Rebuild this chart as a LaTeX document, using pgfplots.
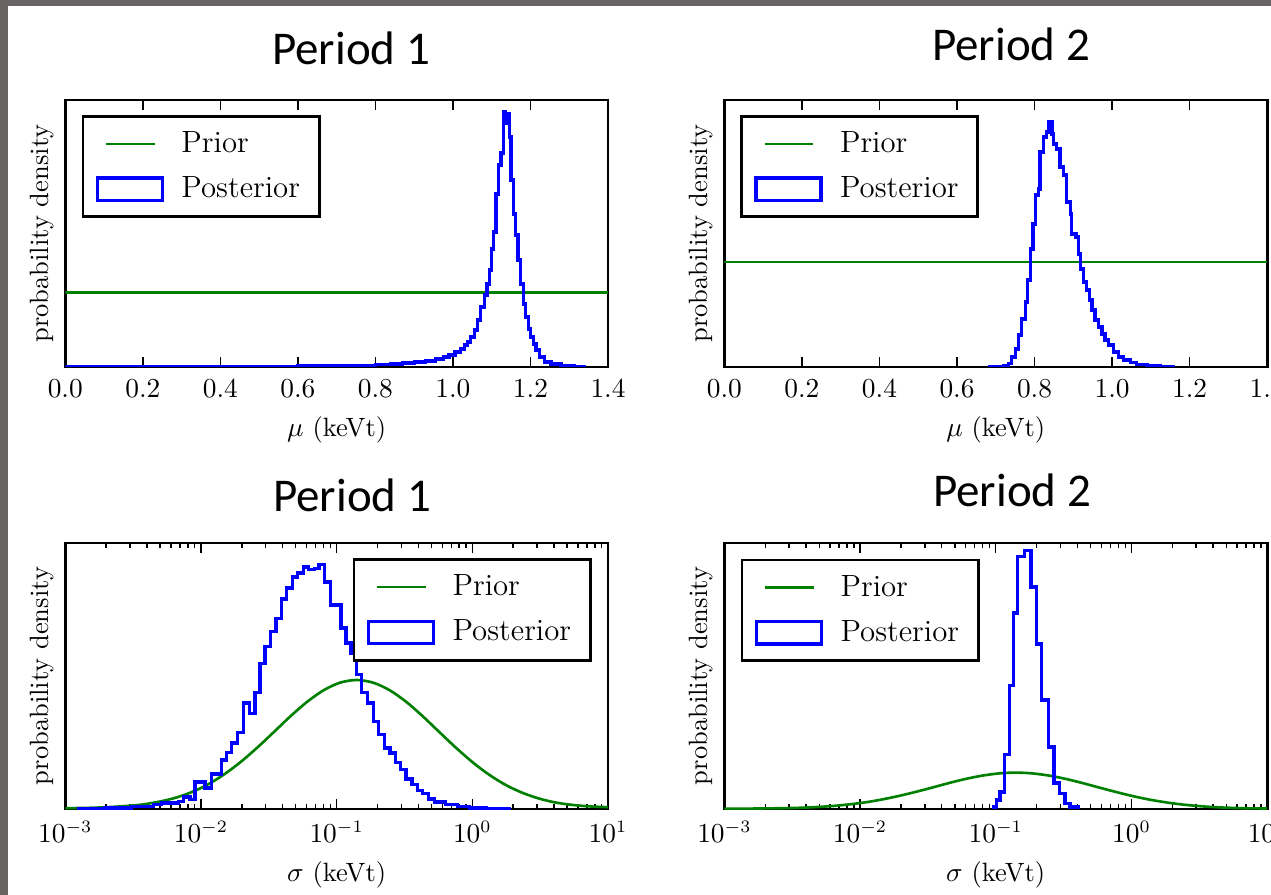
\documentclass[border=0pt]{standalone}
\usepackage{fontspec}
\usepackage{pgfplots}
\usepackage{pgfplotstable}
\pgfplotsset{compat=1.18}
\newfontfamily\calibri{Carlito}
\definecolor{mplgreen}{RGB}{0,128,0}
\definecolor{mplblue}{RGB}{0,0,255}
\definecolor{framegray}{RGB}{104,100,99}

% posterior histograms: left bin edge, bar height (arbitrary density units)
\pgfplotstableread{
mu h
0.000 0.0
0.000 0.3
0.100 0.3
0.200 0.4
0.300 0.5
0.400 0.6
0.500 0.8
0.600 1.0
0.700 1.3
0.760 1.6
0.800 2.3
0.840 3.0
0.870 4.0
0.900 5.0
0.930 6.0
0.955 8.0
0.975 10.0
0.990 12.0
1.005 15.0
1.020 18.0
1.029 22.0
1.038 25.0
1.046 30.0
1.055 37.0
1.063 47.0
1.072 60.0
1.081 72.0
1.088 83.0
1.094 97.0
1.100 118.0
1.105 135.0
1.111 173.0
1.118 202.0
1.124 214.0
1.131 255.0
1.136 244.0
1.140 253.0
1.146 230.0
1.150 187.0
1.157 153.0
1.162 132.0
1.168 107.0
1.175 83.0
1.182 63.0
1.188 50.0
1.195 38.0
1.201 30.0
1.208 23.0
1.214 17.0
1.223 10.0
1.236 5.0
1.253 3.0
1.279 1.3
1.313 0.3
1.340 0.0
}\postmuA

\pgfplotstableread{
mu h
0.685 0.0
0.685 0.3
0.720 1.7
0.733 3.3
0.741 10.0
0.750 18.0
0.759 32.0
0.767 48.0
0.776 65.0
0.782 87.0
0.789 118.0
0.796 143.0
0.802 172.0
0.810 178.0
0.814 215.0
0.823 230.0
0.830 235.0
0.836 245.0
0.845 233.0
0.849 223.0
0.857 218.0
0.866 200.0
0.875 192.0
0.883 165.0
0.892 153.0
0.896 133.0
0.907 130.0
0.913 113.0
0.919 98.0
0.926 85.0
0.935 77.0
0.942 67.0
0.948 57.0
0.956 47.0
0.965 40.0
0.974 33.0
0.982 27.0
0.991 22.0
1.004 15.0
1.017 10.0
1.029 7.0
1.047 4.3
1.064 2.3
1.090 1.0
1.124 0.3
1.158 0.0
}\postmuB

% sigma histograms: log10 of left bin edge, bar height
\pgfplotstableread{
ls h
-2.900 0.0
-2.900 0.3
-2.707 1.0
-2.511 2.7
-2.351 4.3
-2.290 6.0
-2.167 7.7
-2.130 12.0
-2.081 9.3
-2.044 27.0
-1.971 21.0
-1.921 35.0
-1.848 49.0
-1.811 56.7
-1.774 66.0
-1.730 76.7
-1.688 106.0
-1.644 95.3
-1.602 116.7
-1.565 145.3
-1.528 162.7
-1.487 177.7
-1.447 190.3
-1.406 210.0
-1.369 221.0
-1.327 232.0
-1.288 236.0
-1.246 242.0
-1.209 239.3
-1.165 240.3
-1.130 244.3
-1.091 227.0
-1.044 204.0
-0.968 181.0
-0.931 166.0
-0.895 156.0
-0.853 134.3
-0.814 116.7
-0.772 106.0
-0.730 87.7
-0.691 74.3
-0.649 61.0
-0.607 56.0
-0.568 46.7
-0.531 39.3
-0.489 30.0
-0.445 24.3
-0.403 18.7
-0.366 15.3
-0.322 10.0
-0.280 7.0
-0.195 4.3
-0.108 2.7
-0.023 1.0
0.100 0.3
0.272 0.0
}\postsigA

\pgfplotstableread{
ls h
-1.018 0.0
-1.018 2.0
-0.993 9.0
-0.969 17.0
-0.937 54.7
-0.900 123.7
-0.871 196.0
-0.839 252.7
-0.790 258.7
-0.741 222.0
-0.699 165.0
-0.662 109.0
-0.613 62.0
-0.571 26.0
-0.532 15.3
-0.490 5.3
-0.453 2.0
-0.392 0.0
}\postsigB

% sigma priors: log10 sigma, density
\pgfplotstableread{
ls h
-3.000 0.8
-2.941 0.9
-2.818 1.2
-2.695 1.8
-2.573 2.8
-2.450 4.2
-2.327 6.8
-2.204 10.6
-2.081 16.2
-1.959 23.8
-1.836 34.0
-1.713 46.4
-1.590 60.8
-1.467 76.4
-1.344 92.3
-1.221 106.8
-1.098 118.6
-0.976 126.3
-0.853 129.0
-0.730 126.3
-0.607 118.6
-0.484 106.8
-0.362 92.3
-0.239 76.4
-0.116 60.7
0.007 46.2
0.129 33.8
0.252 23.6
0.375 15.9
0.498 10.2
0.621 6.3
0.744 4.0
0.866 2.6
1.000 1.8
}\priorsigA

\pgfplotstableread{
ls h
-3.000 0.3
-2.941 0.3
-2.818 0.4
-2.695 0.6
-2.573 0.8
-2.450 1.2
-2.327 1.9
-2.204 3.0
-2.081 4.6
-1.959 6.7
-1.836 9.6
-1.713 13.1
-1.590 17.1
-1.467 21.5
-1.344 26.0
-1.221 30.1
-1.098 33.4
-0.976 35.6
-0.853 36.4
-0.730 35.6
-0.607 33.4
-0.484 30.1
-0.362 26.0
-0.239 21.5
-0.116 17.1
0.007 13.0
0.129 9.5
0.252 6.7
0.375 4.5
0.498 2.9
0.621 1.8
0.744 1.1
0.866 0.7
1.000 0.5
}\priorsigB

\pgfplotsset{
  panel/.style={
    scale only axis, width=217.08pt, height=106.8pt,
    axis line style={line width=1.15pt},
    ytick=\empty, ymin=0,
    tick style={black, line width=0.55pt},
    major tick length=4pt, minor tick length=2pt,
    tick label style={font=\fontsize{10.6}{12}\selectfont},
    xticklabel style={yshift=-1.5pt},
    label style={font=\fontsize{10.6}{12}\selectfont},
    xlabel style={yshift=-0.8pt},
    ylabel style={yshift=1.2pt},
    ylabel={probability density},
    legend cell align=left,
    legend style={draw=black, line width=1.1pt, fill=white,
      inner xsep=5.1pt, inner ysep=6pt, row sep=8pt, column sep=7pt,
      font=\fontsize{12.3}{14}\selectfont,
      nodes={inner sep=0pt, text height=8.4pt, text depth=1.6pt,
        text width=50pt, align=left}},
  },
  mupanel/.style={panel, xmin=0, xmax=1.4, ymax=267,
    xtick={0,0.2,0.4,0.6,0.8,1.0,1.2,1.4},
    xticklabel style={/pgf/number format/.cd, fixed, fixed zerofill, precision=1},
    xlabel={$\mu$ (keVt)}},
  sigpanel/.style={panel, xmin=1e-3, xmax=1e1, ymax=266,
    height=106.4pt, xlabel={$\sigma$ (keVt)}},
  prior/.style={mplgreen, line width=1.05pt,
    legend image code/.code={
      \path[draw=none, fill=none] (0pt,-4.45pt) rectangle (26pt,4.45pt);
      \draw[mplgreen, line width=1.05pt] (3.6pt,0pt) -- (22.9pt,0pt);}},
  post/.style={mplblue, line width=1.3pt, const plot mark left,
    legend image code/.code={
      \draw[mplblue, line width=1.3pt] (0pt,-4.45pt) rectangle (26pt,4.45pt);}},
}

\begin{document}
\begin{tikzpicture}
\fill[white] (0,0) rectangle (508.4pt,-358pt);
\fill[framegray] (0,0) rectangle (3.2pt,-358pt);
\fill[framegray] (0,0) rectangle (508.4pt,-2.4pt);

\node[anchor=base, font=\calibri\fontsize{18.8}{22}\selectfont] at (140.4pt,-26pt) {Period 1};
\node[anchor=base, font=\calibri\fontsize{18.8}{22}\selectfont] at (404.4pt,-24.4pt) {Period 2};
\node[anchor=base, font=\calibri\fontsize{18.8}{22}\selectfont] at (140.8pt,-204.8pt) {Period 1};
\node[anchor=base, font=\calibri\fontsize{18.8}{22}\selectfont] at (404.8pt,-202.8pt) {Period 2};

\begin{axis}[mupanel, at={(26.12pt,-146.8pt)}, anchor=south west,
  legend style={at={(0.030,0.944)}, anchor=north west}]
\addplot[prior] coordinates {(0,74.7) (1.4,74.7)};
\addlegendentry{Prior}
\addplot[post] table[x=mu, y=h] {\postmuA};
\addlegendentry{Posterior}
\end{axis}

\begin{axis}[mupanel, at={(289.76pt,-146.8pt)}, anchor=south west,
  legend style={at={(0.029,0.944)}, anchor=north west}]
\addplot[prior] coordinates {(0,105) (1.4,105)};
\addlegendentry{Prior}
\addplot[post] table[x=mu, y=h] {\postmuB};
\addlegendentry{Posterior}
\end{axis}

\begin{semilogxaxis}[sigpanel, at={(26.12pt,-323.6pt)}, anchor=south west,
  legend style={at={(0.970,0.9425)}, anchor=north east}]
\addplot[prior, smooth] table[x expr=10^(\thisrow{ls}), y=h] {\priorsigA};
\addlegendentry{Prior}
\addplot[post] table[x expr=10^(\thisrow{ls}), y=h] {\postsigA};
\addlegendentry{Posterior}
\end{semilogxaxis}

\begin{semilogxaxis}[sigpanel, at={(289.76pt,-323.6pt)}, anchor=south west,
  legend style={at={(0.030,0.941)}, anchor=north west}]
\addplot[prior, smooth] table[x expr=10^(\thisrow{ls}), y=h] {\priorsigB};
\addlegendentry{Prior}
\addplot[post] table[x expr=10^(\thisrow{ls}), y=h] {\postsigB};
\addlegendentry{Posterior}
\end{semilogxaxis}

\pgfresetboundingbox
\path (0,0) rectangle (508.4pt,-358pt);
\end{tikzpicture}
\end{document}
